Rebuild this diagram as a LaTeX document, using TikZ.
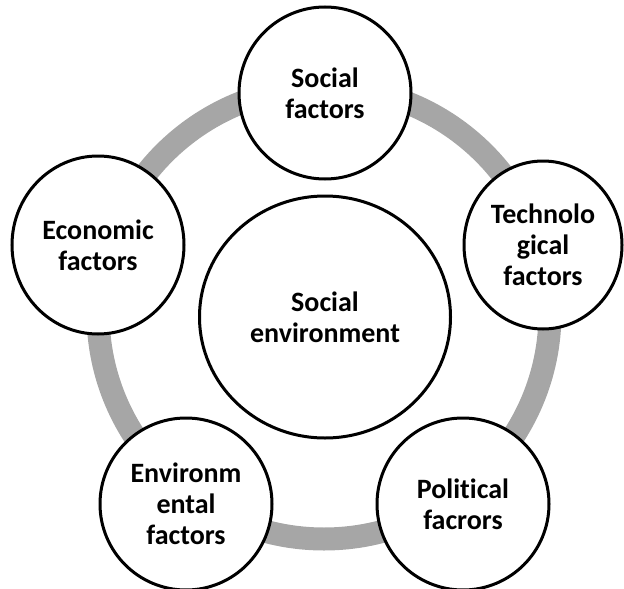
\documentclass[tikz,border=0pt]{standalone}
\usepackage{fontspec}
\setmainfont{Carlito}[Ligatures = {NoCommon, NoContextual}]
\usepackage{tikz}
\usetikzlibrary{shapes.geometric}
\definecolor{ringgray}{RGB}{166,166,166}

\begin{document}
\begin{tikzpicture}[
  x = 1pt, y = -1pt,
  every node/.style = {draw, ellipse, line width = 3pt, fill = white, inner sep = 0pt,
                       align = center, font = \bfseries\fontsize{28}{31}\selectfont},
  factor/.style = {minimum width = 172pt, minimum height = 172pt},
  ring/.style = {draw = ringgray, line width = 23pt}
  ]
  \useasboundingbox (0,0) rectangle (624,589);
  % the cycle behind the circles
  \coordinate (hub) at (324,313);
  \draw[ring] (hub) circle [radius = 226pt];
  % centre and the five factors
  \node (env) [minimum width = 251pt, minimum height = 242pt] at (325,317) {Social\\environment};
  \node (soc) [factor] at (325,93) {Social\\factors};
  \node (tec) [factor, minimum width = 158pt, minimum height = 168pt] at (543,245) {Technolo\\gical\\factors};
  \node (pol) [factor] at (463,504) {Political\\facrors};
  \node (nat) [factor] at (186,504) {Environm\\ental\\factors};
  \node (eco) [factor, minimum height = 178pt] at (98,245) {Economic\\factors};
\end{tikzpicture}
\end{document}
